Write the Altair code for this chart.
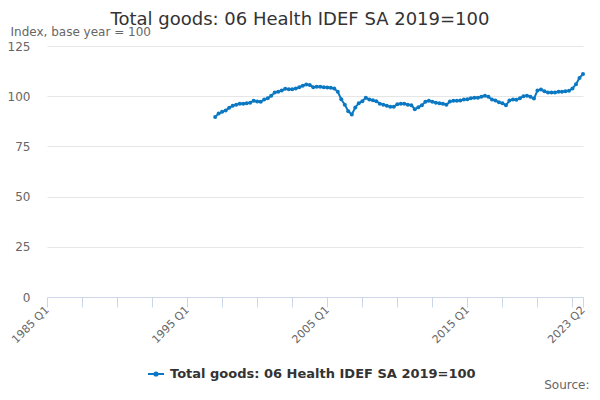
import altair as alt
import pandas as pd

# Quarterly series, 1997 Q1 .. 2023 Q2
start_year = 1997
start_quarter = 1
values = [
    89.7, 91.4, 92.2, 92.9, 94.2, 95.2, 95.8, 96.2, 96.3, 96.5,
    96.8, 97.7, 97.3, 97.2, 98.3, 99.0, 100.2, 101.8, 102.2, 102.8,
    103.7, 103.5, 103.5, 103.8, 104.5, 105.2, 105.8, 105.6, 104.5, 104.7,
    104.7, 104.5, 104.3, 104.2, 103.8, 102.2, 98.5, 95.8, 92.5, 90.9,
    94.4, 96.5, 97.5, 99.2, 98.3, 98.0, 97.5, 96.3, 95.8, 95.2,
    94.7, 94.7, 96.0, 96.3, 96.2, 95.8, 95.5, 93.5, 94.5, 95.5,
    97.2, 97.7, 97.2, 96.8, 96.5, 96.2, 95.8, 97.3, 97.7, 97.7,
    97.8, 98.3, 98.5, 99.0, 99.2, 99.2, 99.7, 100.2, 99.7, 98.3,
    97.8, 97.0, 96.5, 95.5, 97.8, 98.3, 98.2, 99.0, 100.0, 100.2,
    99.7, 98.8, 102.8, 103.3, 102.5, 101.8, 101.8, 101.8, 102.2, 102.2,
    102.5, 102.7, 103.8, 106.0, 109.1, 111.0,
]
series_name = "Total goods: 06 Health IDEF SA 2019=100"
axis_start_year = 1985
axis_end_index = 153  # 2023 Q2
tick_labels = {0: "1985 Q1", 40: "1995 Q1", 80: "2005 Q1", 120: "2015 Q1", 153: "2023 Q2"}
y_ticks = [0, 25, 50, 75, 100, 125]

rows = []
for i, v in enumerate(values):
    qi = (start_quarter - 1) + i
    year = start_year + qi // 4
    quarter = qi % 4 + 1
    rows.append({
        "period": f"{year} Q{quarter}",
        "q": (year - axis_start_year) * 4 + (quarter - 1),
        "value": v,
        "series": series_name,
    })
df = pd.DataFrame(rows)

tick_vals = list(range(0, axis_end_index, 10)) + [axis_end_index]
label_expr = " : ".join(
    [f"datum.value == {k} ? '{v}'" for k, v in tick_labels.items()]
) + " : ''"

blue = "#0b78c2"
font = "DejaVu Sans"

chart = alt.Chart(df).mark_line(
    strokeWidth=2,
    point=alt.OverlayMarkDef(filled=True, size=16),
).encode(
    x=alt.X(
        "q:Q",
        scale=alt.Scale(domain=[0, axis_end_index], nice=False, zero=False),
        axis=alt.Axis(
            values=tick_vals,
            labelExpr=label_expr,
            labelAngle=-45,
            labelAlign="right",
            labelBaseline="middle",
            labelColor="#666666",
            labelFontSize=11,
            labelFont=font,
            labelPadding=1,
            labelOverlap=False,
            labelFlush=False,
            tickColor="#ccd6eb",
            tickSize=10,
            domainColor="#ccd6eb",
            grid=False,
            title="Source:",
            titleFont=font,
            titleFontSize=12,
            titleFontWeight="normal",
            titleColor="#666666",
            titleAnchor="end",
            titleAlign="right",
            titleX=542,
            titleY=94,
            titleBaseline="bottom",
        ),
    ),
    y=alt.Y(
        "value:Q",
        scale=alt.Scale(domain=[0, 125], nice=False),
        axis=alt.Axis(
            values=y_ticks,
            labelColor="#666666",
            labelFontSize=12,
            labelFont=font,
            labelPadding=17,
            domain=False,
            ticks=False,
            gridColor="#e6e6e6",
            title="Index, base year = 100",
            titleFont=font,
            titleFontSize=12,
            titleFontWeight="normal",
            titleColor="#666666",
            titleAngle=0,
            titleAlign="left",
            titleBaseline="alphabetic",
            titleX=-37,
            titleY=-11,
        ),
    ),
    color=alt.Color(
        "series:N",
        scale=alt.Scale(range=[blue]),
        legend=alt.Legend(
            title=None,
            orient="none",
            legendX=100,
            legendY=319,
            symbolType="M-1,0L1,0M-0.2,0A0.2,0.2 0 1,1 0.2,0A0.2,0.2 0 1,1 -0.2,0",
            symbolSize=256,
            symbolStrokeWidth=2,
            symbolFillColor=blue,
            symbolStrokeColor=blue,
            labelFont=font,
            labelFontSize=13,
            labelFontWeight="bold",
            labelColor="#333333",
            labelLimit=400,
            labelOffset=5,
        ),
    ),
).properties(
    width=536,
    height=251,
    autosize=alt.AutoSizeParams(type="none"),
    padding={"left": 39, "top": 38, "right": 9, "bottom": 95},
    title=alt.TitleParams(
        text="Total goods: 06 Health IDEF SA 2019=100",
        font=font,
        fontSize=18,
        fontWeight="normal",
        color="#333333",
        anchor="middle",
        dx=-15,
        dy=7,
        offset=3,
    ),
).configure_view(stroke=None)

chart.save("out.html", embed_options={"renderer": "svg", "actions": False})
